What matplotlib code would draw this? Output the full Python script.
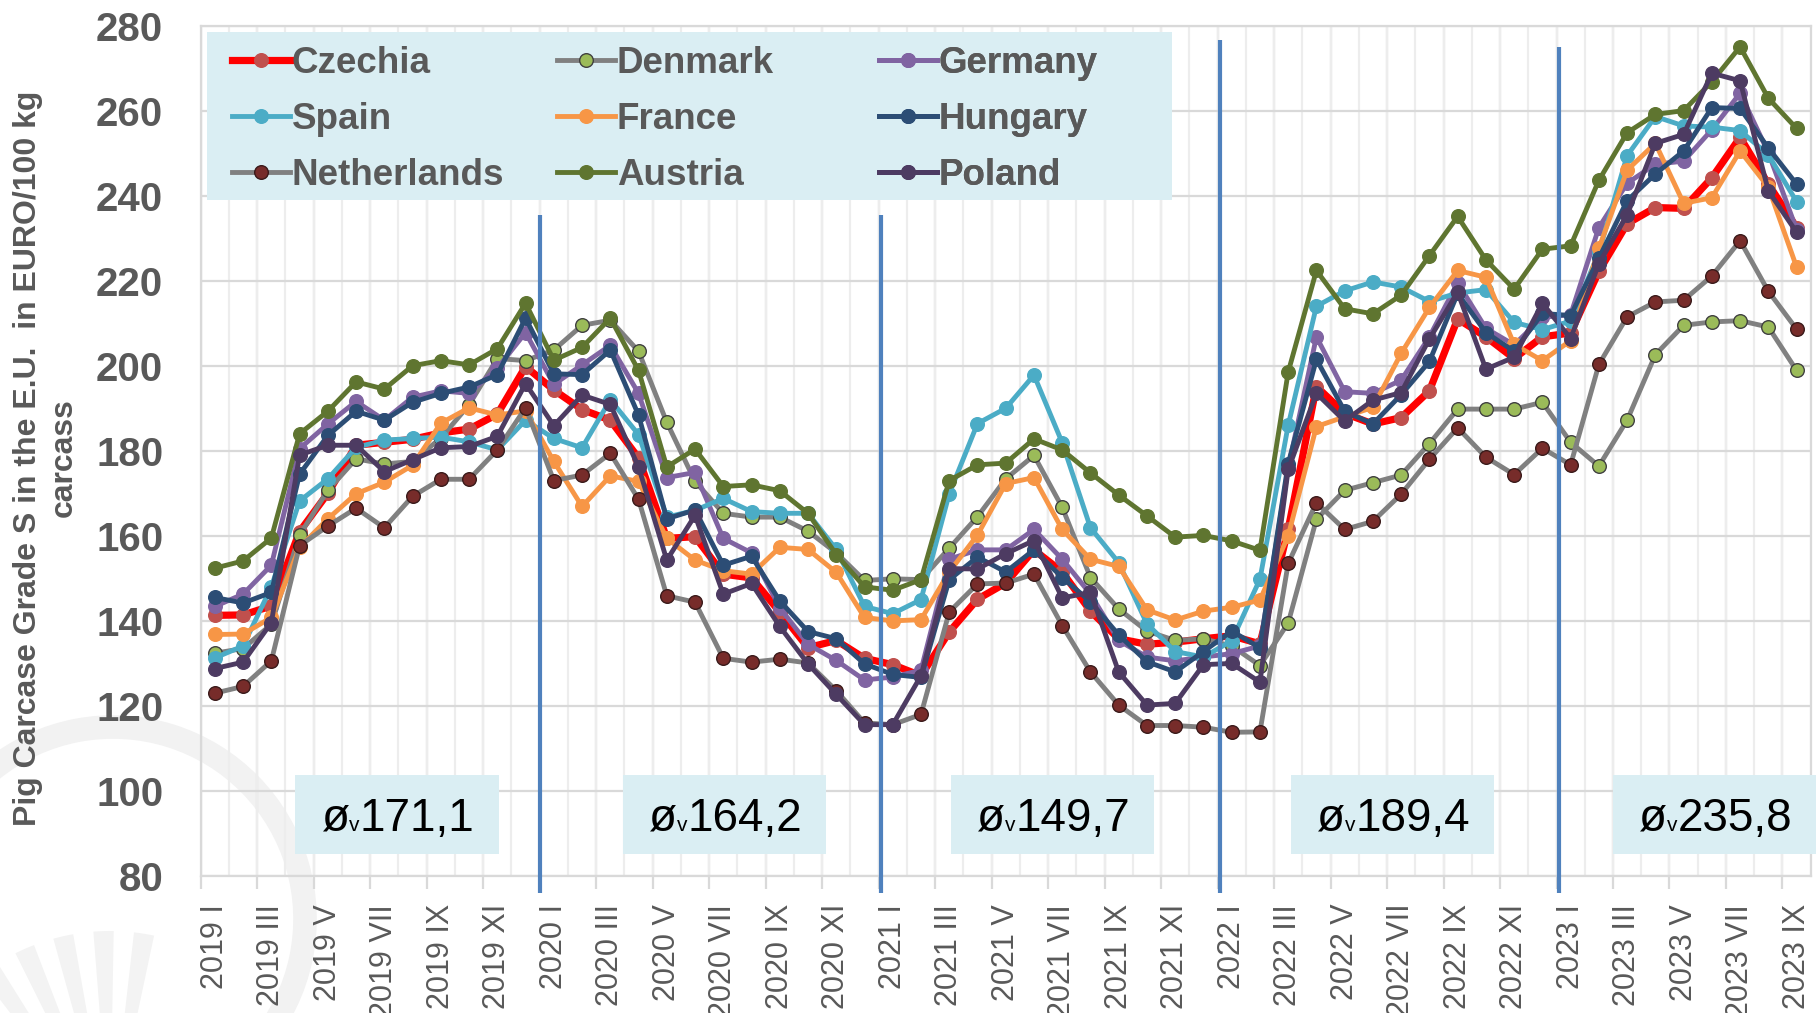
import numpy as np
import matplotlib
matplotlib.use('Agg')
import matplotlib.pyplot as plt
from matplotlib.patches import Arc, Wedge, Rectangle
from matplotlib.transforms import IdentityTransform

plt.rcParams['font.family'] = ['Liberation Sans', 'DejaVu Sans']

# Datos: precio canal cerdo clase S (EUR/100 kg), 2019 I - 2023 IX
years = [2019, 2020, 2021, 2022, 2023]
roman = ['I', 'II', 'III', 'IV', 'V', 'VI', 'VII', 'VIII', 'IX', 'X', 'XI', 'XII']
months = [f'{y} {r}' for y in years for r in roman][:57]

czechia = [141.3, 141.4, 143.5, 161.0, 170.0, 181.3, 182.0, 182.7, 184.2, 185.1, 188.6, 199.8,
           194.3, 189.7, 187.2, 178.3, 159.4, 159.8, 151.0, 150.1, 142.1, 133.7, 135.4, 131.2,
           129.7, 127.1, 137.4, 145.1, 148.9, 156.7, 151.5, 142.3, 135.8, 134.5, 135.0, 135.8,
           136.5, 134.6, 161.5, 195.1, 188.8, 186.3, 187.8, 194.1, 211.0, 206.8, 201.7, 206.8,
           207.7, 222.2, 233.4, 237.2, 237.0, 244.2, 253.7, 242.7, 232.5]
denmark = [132.4, 133.5, 139.2, 160.2, 170.7, 178.1, 176.9, 177.5, 183.0, 190.8, 201.7, 201.2,
           203.7, 209.5, 210.7, 203.4, 186.7, 172.8, 165.3, 164.4, 164.4, 161.1, 156.0, 149.5,
           149.9, 149.7, 157.1, 164.5, 173.4, 178.9, 166.7, 150.2, 142.8, 137.6, 135.4, 135.8,
           134.1, 129.5, 139.5, 163.9, 170.7, 172.5, 174.3, 181.7, 189.8, 189.8, 189.8, 191.4,
           182.0, 176.4, 187.2, 202.6, 209.5, 210.3, 210.6, 209.1, 198.9]
germany = [143.4, 146.3, 153.1, 180.5, 186.3, 191.6, 187.2, 192.6, 194.1, 193.5, 199.4, 207.8,
           195.6, 200.2, 204.8, 193.5, 173.7, 174.9, 159.4, 156.0, 143.1, 134.5, 130.7, 126.1,
           126.8, 128.4, 154.5, 156.7, 156.7, 161.5, 154.5, 146.3, 135.4, 131.5, 130.6, 131.5,
           132.3, 134.1, 176.0, 206.8, 193.9, 193.5, 196.6, 206.8, 219.5, 208.8, 204.9, 211.4,
           212.0, 232.5, 242.9, 247.4, 248.1, 255.5, 264.1, 250.1, 232.0]
spain = [131.3, 134.1, 148.0, 168.2, 173.4, 180.8, 182.5, 182.9, 183.2, 182.1, 180.2, 187.2,
         182.9, 180.7, 192.0, 183.8, 164.4, 166.0, 168.8, 165.7, 165.3, 165.3, 156.8, 143.4,
         141.7, 145.0, 169.9, 186.4, 190.0, 197.8, 181.9, 161.9, 153.7, 139.3, 132.8, 131.5,
         135.3, 149.8, 186.0, 214.0, 217.6, 219.7, 218.5, 215.1, 217.1, 217.9, 210.2, 208.5,
         210.5, 226.7, 249.4, 258.6, 256.4, 256.1, 255.3, 249.6, 238.6]
france = [136.8, 136.9, 140.8, 157.3, 164.0, 169.9, 172.6, 176.6, 186.5, 190.1, 188.4, 189.4,
          177.5, 166.9, 174.1, 172.8, 159.4, 154.3, 151.8, 151.0, 157.3, 156.8, 151.4, 140.8,
          140.0, 140.3, 151.5, 160.2, 172.3, 173.7, 161.5, 154.5, 152.8, 142.6, 140.2, 142.3,
          143.2, 144.9, 160.0, 185.7, 188.0, 190.2, 202.9, 213.7, 222.4, 220.8, 205.0, 201.2,
          205.9, 227.6, 246.0, 252.3, 238.2, 239.5, 250.5, 242.0, 223.2]
hungary = [145.5, 144.2, 146.7, 174.5, 183.6, 189.3, 187.2, 191.4, 193.5, 195.0, 197.9, 211.2,
           198.1, 197.9, 203.7, 188.4, 164.0, 166.1, 153.1, 155.2, 144.7, 137.5, 135.8, 129.9,
           127.4, 126.7, 149.7, 155.0, 151.5, 156.7, 150.2, 144.5, 136.7, 130.4, 128.0, 132.8,
           137.6, 133.7, 177.0, 201.5, 189.3, 186.3, 193.2, 201.0, 217.0, 207.8, 203.4, 212.3,
           211.8, 225.3, 238.8, 245.1, 250.5, 260.7, 260.5, 251.2, 242.7]
netherlands = [123.0, 124.6, 130.6, 157.7, 162.3, 166.5, 161.9, 169.3, 173.3, 173.3, 180.2, 190.1,
               173.0, 174.3, 179.4, 168.6, 145.9, 144.4, 131.2, 130.3, 131.0, 130.1, 123.6, 116.0,
               115.6, 118.0, 142.1, 148.7, 148.9, 151.0, 138.9, 128.0, 120.2, 115.4, 115.4, 115.0,
               113.8, 113.9, 153.5, 167.8, 161.5, 163.4, 169.8, 178.0, 185.4, 178.5, 174.4, 180.6,
               176.7, 200.3, 211.5, 215.0, 215.4, 221.1, 229.4, 217.5, 208.6]
austria = [152.4, 154.1, 159.5, 184.0, 189.3, 196.2, 194.5, 200.0, 201.2, 200.2, 204.0, 214.7,
           201.3, 204.3, 211.2, 198.9, 176.2, 180.4, 171.6, 172.0, 170.6, 165.3, 155.6, 148.0,
           147.2, 149.7, 173.0, 176.7, 177.1, 182.8, 180.2, 174.8, 169.6, 164.7, 159.7, 160.1,
           158.8, 156.6, 198.5, 222.4, 213.4, 212.2, 216.6, 225.9, 235.1, 224.9, 218.0, 227.4,
           228.2, 243.6, 254.8, 259.1, 260.0, 266.8, 275.0, 262.9, 255.8]
poland = [128.8, 130.3, 139.6, 179.0, 181.3, 181.3, 175.1, 177.9, 180.7, 181.0, 183.4, 195.8,
          185.9, 193.1, 190.9, 176.2, 154.3, 164.8, 146.3, 148.8, 138.7, 129.9, 122.7, 115.6,
          115.6, 127.1, 152.3, 152.2, 155.8, 158.9, 145.4, 146.7, 128.0, 120.2, 120.6, 129.7,
          130.0, 125.6, 175.6, 193.5, 187.0, 191.9, 193.7, 206.3, 217.3, 199.2, 202.0, 214.7,
          206.4, 224.0, 235.5, 252.3, 254.4, 268.8, 267.0, 241.1, 231.4]

# promedios anuales
averages = ['171,1', '164,2', '149,7', '189,4', '235,8']
avg_pos = [6.45, 18.05, 29.65, 41.7, 53.1]
year_breaks = [11.5, 23.6, 35.6, 47.6]
break_top = [235.5, 235.5, 276.5, 275.0]

GRAY_TXT = '#595959'
BOX = '#DAEEF3'

series = [
    ('Czechia', czechia, '#FF0000', '#C0504D', '#C0504D', 5.2),
    ('Denmark', denmark, '#808080', '#9BBB59', '#404040', 3.5),
    ('Germany', germany, '#8064A2', '#8064A2', '#8064A2', 3.5),
    ('Spain', spain, '#4BACC6', '#4BACC6', '#4BACC6', 3.5),
    ('France', france, '#F79646', '#F79646', '#F79646', 3.5),
    ('Hungary', hungary, '#2C4D75', '#2C4D75', '#2C4D75', 3.5),
    ('Netherlands', netherlands, '#808080', '#772C2A', '#3A1A1A', 3.5),
    ('Austria', austria, '#5F7530', '#5F7530', '#5F7530', 3.5),
    ('Poland', poland, '#4D3B62', '#4D3B62', '#4D3B62', 3.5),
]

fig = plt.figure(figsize=(18.2, 10.13), dpi=100)

# marca de agua (logo) al fondo, en pixeles
fig.patches.append(Arc((113, 94), 384, 384, theta1=-40, theta2=185,
                       transform=IdentityTransform(), color='#F2F2F2', lw=17, zorder=-5))
for a in range(78, 150, 11):
    fig.patches.append(Wedge((110, -130), 212, a, a + 5.5, width=90,
                             transform=IdentityTransform(), color='#F3F3F3', lw=0, zorder=-5))

ax = fig.add_axes([0.1103, 0.1352, 0.8846, 0.8396])
ax.set_facecolor('none')

x = np.arange(len(months))
handles = {}
for name, vals, lc, mfc, mec, lw in series:
    h, = ax.plot(x, vals, color=lc, lw=lw, marker='o', ms=9.8, mfc=mfc, mec=mec,
                 mew=1.0, label=name, zorder=3)
    handles[name] = h

# separadores de año
ax.vlines(year_breaks, 76, break_top, color='#4F81BD', lw=3, zorder=4, clip_on=False)

ax.set_xlim(-0.5, len(months) - 0.5)
ax.set_ylim(80, 280)
ax.set_yticks(range(80, 281, 20))
ax.set_xticks(x[::2])
ax.set_xticklabels(months[::2], rotation=90, fontsize=22, color=GRAY_TXT)
ax.set_xticks(np.arange(-0.5, len(months), 1), minor=True)
ax.tick_params(axis='x', which='both', length=0, pad=20)
ax.tick_params(axis='y', length=0, pad=27, labelsize=29, labelcolor=GRAY_TXT)
for t in ax.get_yticklabels():
    t.set_fontweight('bold')

ax.grid(axis='y', color='#D9D9D9', lw=1.6, zorder=0)
ax.grid(axis='x', which='minor', color='#EDEDED', lw=1.6, zorder=0)
for b in np.arange(-0.5, len(months), 2):
    ax.axvline(b, color='#D9D9D9', lw=1.6, zorder=0.5)
for s in ax.spines.values():
    s.set_color('#D9D9D9')
    s.set_linewidth(1.6)

sec = ax.secondary_xaxis('bottom')
sec.set_xticks(np.arange(-0.5, len(months), 2))
sec.tick_params(length=9, width=1.6, color='#D9D9D9', labelbottom=False)
sec.spines['bottom'].set_visible(False)

fig.text(0.025, 0.548, 'Pig Carcase Grade S in the E.U.  in EURO/100 kg\ncarcass',
         rotation=90, ha='center', va='center', multialignment='center',
         fontsize=23, fontweight='bold', color=GRAY_TXT, linespacing=1.25)

# cajas con promedio: ø + v pequeña + valor
for p, txt in zip(avg_pos, averages):
    ax.add_patch(Rectangle((p - 3.6, 85.3), 7.2, 18.4, fc=BOX, ec='none', zorder=5,
                           clip_on=False))
    t1 = ax.annotate('ø', xy=(p, 90.6), xytext=(-55, 0), textcoords='offset points',
                     ha='left', va='baseline', fontsize=33, color='black', zorder=6)
    t2 = ax.annotate('v', xy=(1, 0), xycoords=t1, xytext=(0.5, 7.0),
                     textcoords='offset points', ha='left', va='baseline',
                     fontsize=15, color='black', zorder=6)
    ax.annotate(txt, xy=(1, 0), xycoords=t2, xytext=(0, 3.2),
                textcoords='offset points', ha='left', va='baseline',
                fontsize=33, color='black', zorder=6)

# leyenda: fondo + tres columnas
ax.add_patch(Rectangle((0.004, 0.795), 0.599, 0.197, transform=ax.transAxes,
                       fc=BOX, ec='none', zorder=6))
cols = [['Czechia', 'Spain', 'Netherlands'],
        ['Denmark', 'France', 'Austria'],
        ['Germany', 'Hungary', 'Poland']]
col_x = [0.0194, 0.2213, 0.4213]
for cx, names in zip(col_x, cols):
    leg = ax.legend([handles[n] for n in names], names, loc='upper left',
                    bbox_to_anchor=(cx, 0.9755), fontsize=26.5, frameon=False,
                    handlelength=1.57, handletextpad=0.05, labelspacing=0.56,
                    borderaxespad=0, borderpad=0)
    leg.set_zorder(7)
    for t in leg.get_texts():
        t.set_fontweight('bold')
        t.set_color(GRAY_TXT)
    ax.add_artist(leg)

fig.savefig('out.png', dpi=100)
